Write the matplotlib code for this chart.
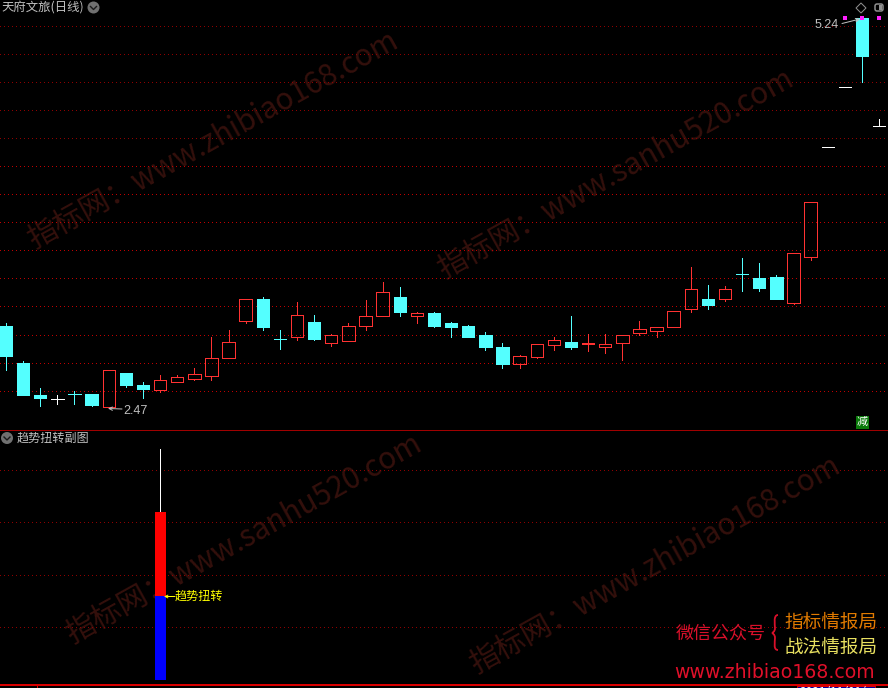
#!/usr/bin/env python
### daily candle chart with sub-indicator pane, dark terminal style
import matplotlib
matplotlib.use('Agg')
import matplotlib.pyplot as plt
from matplotlib.patches import Rectangle, Circle, Polygon, FancyBboxPatch, PathPatch
from matplotlib.path import Path

plt.rcParams['font.family'] = ['Noto Sans CJK SC', 'DejaVu Sans']

### candle data ###
opens = [3.047,2.783,2.555,2.527,2.563,2.563,2.470,2.712,2.627,2.591,2.648,2.669,2.691,
         2.819,3.082,3.239,2.954,2.968,3.075,2.926,2.940,3.047,3.118,3.253,3.118,3.139,
         3.068,3.047,2.983,2.897,2.776,2.826,2.911,2.933,2.919,2.897,2.926,2.997,3.011,
         3.040,3.168,3.239,3.239,3.417,3.388,3.396,3.210,3.538,4.321,4.748,5.240,4.471]
highs = [3.068,2.798,2.605,2.555,2.584,2.563,2.733,2.712,2.648,2.698,2.698,2.748,2.968,
         3.018,3.239,3.253,3.018,3.218,3.125,2.990,3.068,3.232,3.360,3.324,3.146,3.146,
         3.075,3.054,3.004,2.926,2.840,2.919,2.968,3.118,2.990,2.990,2.983,3.082,3.040,
         3.154,3.467,3.339,3.332,3.531,3.495,3.410,3.566,3.930,4.321,4.748,5.240,4.521]
lows = [2.733,2.555,2.477,2.491,2.491,2.477,2.470,2.612,2.534,2.577,2.648,2.662,2.662,
        2.819,3.068,3.018,2.883,2.947,2.947,2.904,2.940,3.018,3.118,3.118,3.068,3.040,
        2.968,2.968,2.876,2.748,2.748,2.819,2.876,2.883,2.869,2.854,2.805,2.983,2.968,
        3.040,3.146,3.168,3.225,3.296,3.296,3.239,3.203,3.517,4.321,4.748,4.784,4.471]
closes = [2.833,2.555,2.534,2.527,2.562,2.484,2.733,2.627,2.598,2.662,2.684,2.705,2.819,
          2.933,3.239,3.040,2.953,3.125,2.954,2.983,3.047,3.118,3.289,3.146,3.139,3.047,
          3.040,2.968,2.897,2.776,2.833,2.919,2.947,2.897,2.926,2.919,2.983,3.025,3.040,
          3.154,3.310,3.196,3.310,3.416,3.317,3.239,3.566,3.930,4.321,4.748,4.969,4.471]
grid_prices = [5.186,4.986,4.786,4.586,4.386,4.186,3.986,3.786,3.586,3.386,3.186,2.986,2.786,2.586]
signal_idx = [49,50,51]
signal_price = [5.243,5.243,5.243]

### sub pane data ###
sub_idx = 9
sub_top = 147
sub_red = 84
sub_blue = -84
sub_grid = [126,74,21,-31]

### labels ###
title_main = '天府文旅(日线)'
title_sub = '趋势扭转副图'
signal_text = '趋势扭转'
wm_1 = '指标网：www.zhibiao168.com'
wm_2 = '指标网：www.sanhu520.com'

RED = '#ff3232'
CYAN = '#54ffff'
GRAY = '#c0c0c0'
PX = 0.72  # one pixel in points at dpi 100

W, H = 888, 688
fig = plt.figure(figsize=(W/100, H/100), dpi=100, facecolor='black')

# candle x: index i sits at pixel 6 + 17.12*i
xlim = (-6/17.12, (W-6)/17.12)

def pane(top, bottom):
    a = fig.add_axes([0, 1-bottom/H, 1, (bottom-top)/H])
    a.set_facecolor('none')
    a.axis('off')
    a.set_xlim(xlim)
    return a

ax = pane(0, 429)
ax.set_ylim(2.47-22*0.00712, 2.47+407*0.00712)
sub = pane(429, 684.5)
sub.set_ylim(-88.5, 167)
ov = fig.add_axes([0, 0, 1, 1], zorder=5)
ov.set_facecolor('none')
ov.axis('off')
ov.set_xlim(0, W)
ov.set_ylim(H, 0)

### watermarks under everything ###
def watermark(x, y, s):
    fig.text(x/W, 1-y/H, s, color='#34100c', fontsize=21.4, rotation=29,
             rotation_mode='anchor', ha='left', va='center', zorder=-1)

watermark(30, 242, wm_1)
watermark(440, 272, wm_2)
watermark(68, 637, wm_2)
watermark(472, 667, wm_1)

### grid ###
for k, g in enumerate(grid_prices):
    ax.plot(xlim, [g, g], color='#8f0000' if k < 5 else '#c00000', lw=PX,
            linestyle=(0, (1, 3)), antialiased=False, dash_capstyle='butt', zorder=1)
for g in sub_grid:
    sub.plot(xlim, [g, g], color='#8f0000', lw=PX, linestyle=(0, (1, 3)),
             antialiased=False, dash_capstyle='butt', zorder=1)

### candles ###
half = 6.2/17.12
for i in range(len(opens)):
    o, h, l, c = opens[i], highs[i], lows[i], closes[i]
    if c > o:
        col = RED
    elif c < o:
        col = CYAN
    else:
        col = 'white'
    top, bot = max(o, c), min(o, c)
    if h > top:
        ax.plot([i, i], [top, h], color=col, lw=PX, antialiased=False, zorder=3)
    if l < bot:
        ax.plot([i, i], [l, bot], color=col, lw=PX, antialiased=False, zorder=3)
    ax.add_patch(Rectangle((i-half, bot), 2*half, top-bot, lw=PX, edgecolor=col,
                           facecolor=CYAN if c < o else 'none', antialiased=False, zorder=4))

ax.scatter(signal_idx, signal_price, s=7, marker='s', color='#ff20ff', linewidths=0, zorder=5)

### sub pane bars ###
sub.plot([sub_idx, sub_idx], [sub_red, sub_top], color='white', lw=PX, antialiased=False, zorder=3)
sub.bar(sub_idx, sub_red, width=11/17.12, color='#ff0000', zorder=4)
sub.bar(sub_idx, sub_blue, width=11/17.12, color='#0000ff', zorder=4)

### frame lines and header decorations ###
ov.plot([0, W], [429.5, 429.5], color='#a00000', lw=PX, antialiased=False)
ov.plot([0, W], [684.5, 684.5], color='#d80000', lw=2*PX, antialiased=False)
ov.plot([36.5, 36.5], [685, 688], color='#d80000', lw=PX, antialiased=False)
ov.add_patch(Rectangle((797, 686), 78, 3, facecolor='#0000a0', edgecolor='#d80000', lw=PX, clip_on=True))
ov.text(799, 692.5, '2021/11/01/一', color='white', fontsize=8.5, ha='left', va='center', clip_on=True)

ov.text(1, 7.5, title_main, color=GRAY, fontsize=8.9, ha='left', va='center')
ov.text(17, 438, title_sub, color=GRAY, fontsize=8.7, ha='left', va='center')
for cx, cy in [(93.5, 7.5), (7, 438)]:
    ov.add_patch(Circle((cx, cy), 6, facecolor='#707070', edgecolor='none'))
    ov.plot([cx-3, cx, cx+3], [cy-1, cy+2, cy-1], color='#1a1a1a', lw=1)
ov.add_patch(Polygon([(861, 3), (866, 8), (861, 13), (856, 8)], closed=True, fill=False, edgecolor='#909090', lw=PX))
ov.add_patch(FancyBboxPatch((875, 4), 8, 7, boxstyle='round,pad=0,rounding_size=2', fill=False, edgecolor='#909090', lw=PX*1.5))
ov.add_patch(Rectangle((879, 5), 3, 5, facecolor='#909090', edgecolor='none'))

### price labels ###
ov.text(123, 411, '2.47', color=GRAY, fontsize=9, family='Liberation Sans', ha='left', va='center')
ov.annotate('', xy=(108, 408.5), xytext=(122, 409), arrowprops=dict(arrowstyle='->', color=GRAY, lw=PX, mutation_scale=6, shrinkA=0, shrinkB=0))
ov.text(815, 25, '5.24', color=GRAY, fontsize=9, family='Liberation Sans', ha='left', va='center')
ov.annotate('', xy=(860, 19), xytext=(842, 23.5), arrowprops=dict(arrowstyle='->', color=GRAY, lw=PX, mutation_scale=6, shrinkA=0, shrinkB=0))

### signal label ###
ov.annotate('', xy=(164, 596.5), xytext=(175, 596.5), arrowprops=dict(arrowstyle='->', color='#ffff00', lw=PX, mutation_scale=5, shrinkA=0, shrinkB=0))
ov.text(175, 596, signal_text, color='#ffff00', fontsize=8.7, ha='left', va='center')

### green badge ###
ov.add_patch(Rectangle((856, 415.5), 13, 13, facecolor='#0a7a0a', edgecolor='none'))
ov.text(862.5, 421.5, '减', color='white', fontsize=8, ha='center', va='center')

### bottom right promo ###
ov.text(676, 634, '微信公众号', color='#d8102a', fontsize=13, ha='left', va='center')
brace = Path([(778, 615), (773, 615), (775, 625), (775, 628), (775, 632), (772, 633), (772, 633),
              (772, 633), (775, 634), (775, 638), (775, 642), (773, 650), (778, 650)],
             [Path.MOVETO] + [Path.CURVE4]*12)
ov.add_patch(PathPatch(brace, fill=False, edgecolor='#d8102a', lw=1.3))
ov.text(784, 623, '指标情报局', color='#e07a00', fontsize=13.4, ha='left', va='center')
ov.text(784, 648, '战法情报局', color='#e8e060', fontsize=13.4, ha='left', va='center')
ov.text(674.5, 672, 'www.zhibiao168.com', color='#e0102a', fontsize=13.6, family='DejaVu Sans', ha='left', va='center')

plt.savefig('out.png', dpi=100, facecolor='black')
